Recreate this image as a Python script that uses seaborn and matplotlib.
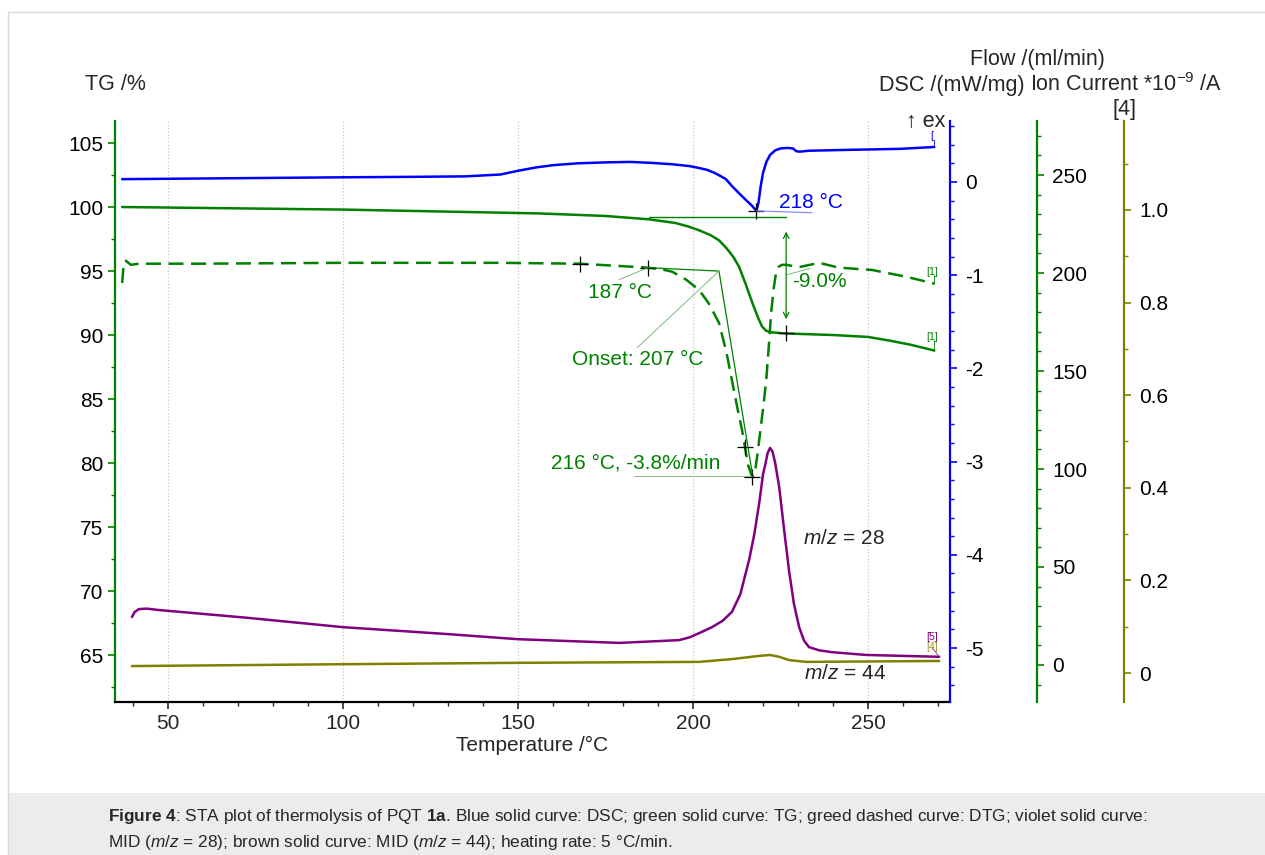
import numpy as np
import pandas as pd
import seaborn as sns
import matplotlib.pyplot as plt
from matplotlib.patches import Rectangle
from matplotlib.lines import Line2D
from matplotlib.ticker import MultipleLocator

sns.set_style("ticks")
plt.rcParams['font.family'] = ['Liberation Sans', 'DejaVu Sans']
plt.rcParams['mathtext.fontset'] = 'custom'
plt.rcParams['mathtext.rm'] = 'Liberation Sans'
plt.rcParams['mathtext.it'] = 'Liberation Sans:italic'
plt.rcParams['mathtext.bf'] = 'Liberation Sans:bold'
plt.rcParams['axes.unicode_minus'] = False

# --- data ---
# DSC /(mW/mg)
dsc_T = [36.9, 100, 120, 135, 145, 150, 155, 160, 167, 175, 182, 188, 194, 199, 201.7, 204,
         206, 208, 209.4, 211, 213.1, 215, 216.7, 218.1, 218.7, 219.3, 220, 221, 222, 223.5,
         225, 227, 228.5, 229.5, 230.5, 233, 245, 259, 268.9]
dsc_val = [0.03, 0.05, 0.055, 0.06, 0.08, 0.12, 0.155, 0.18, 0.20, 0.21, 0.215, 0.205, 0.19,
           0.17, 0.15, 0.13, 0.10, 0.06, 0.03, -0.04, -0.12, -0.19, -0.25, -0.31, -0.22, -0.05,
           0.10, 0.22, 0.29, 0.34, 0.36, 0.365, 0.36, 0.33, 0.325, 0.335, 0.345, 0.355, 0.375]

# TG /%
tg_T = [36.9, 100, 156, 175, 187.4, 195, 199, 202, 205, 207.4, 209.5, 211.5, 213.1, 215,
        216.9, 218.5, 219.7, 220.8, 222, 226.6, 240, 250, 256, 262, 268.9]
tg_val = [100.0, 99.8, 99.5, 99.3, 99.04, 98.75, 98.45, 98.15, 97.8, 97.4, 96.8, 96.1, 95.36,
          94.0, 92.54, 91.4, 90.67, 90.35, 90.22, 90.12, 90.0, 89.85, 89.57, 89.25, 88.79]

# DTG /(%/min)
dtg_T = [36.9, 37.4, 38.0, 39.4, 41.7, 58.9, 100, 144.6, 167.7, 187.1, 191, 194, 198, 201.7,
         204.5, 207.4, 209.5, 211.1, 212.7, 214, 215.7, 216.9, 217.6, 218.3, 218.9, 220, 220.9,
         221.7, 222.3, 223, 223.7, 224.5, 225.4, 226.6, 230.3, 236, 241.7, 251.1, 260.9, 268.9]
dtg_val = [-0.39, -0.02, 0.0, -0.07, -0.05, -0.05, -0.035, -0.035, -0.05, -0.12, -0.15, -0.19,
           -0.33, -0.51, -0.75, -1.09, -1.6, -2.10, -2.6, -2.98, -3.59, -3.80, -3.75, -3.45,
           -3.15, -2.6, -2.10, -1.45, -0.92, -0.5, -0.21, -0.10, -0.07, -0.07, -0.11, -0.035,
           -0.12, -0.16, -0.28, -0.40]

# Ion current *1e-9 A, m/z = 28
mz28_T = [39.7, 40.5, 41.7, 44, 47.4, 73, 100, 130, 150, 179, 196, 199, 201.7, 205.4, 208.5,
          211.1, 213.5, 216, 217.5, 218.9, 220, 220.6, 221.3, 222, 222.7, 223.4, 224.6, 226,
          227.4, 228.8, 230.3, 231.7, 233.1, 236, 239.7, 249.4, 270.3]
mz28_val = [0.121, 0.132, 0.138, 0.139, 0.136, 0.119, 0.099, 0.084, 0.073, 0.065, 0.071, 0.077,
            0.086, 0.099, 0.113, 0.132, 0.17, 0.244, 0.30, 0.367, 0.43, 0.449, 0.475, 0.486,
            0.478, 0.456, 0.402, 0.31, 0.222, 0.15, 0.099, 0.07, 0.056, 0.049, 0.045, 0.039,
            0.035]

# m/z = 44
mz44_T = [39.7, 100, 150, 201.7, 211, 219, 222, 224.6, 227.4, 232.3, 270.3]
mz44_val = [0.015, 0.019, 0.022, 0.024, 0.030, 0.037, 0.039, 0.035, 0.028, 0.024, 0.026]

# evaluated points
dsc_peak = (218.1, -0.31)
tg_step = (187.4, 226.6, 99.2, 90.12)   # T start, T end, TG before, TG after
dtg_base = [(167.7, -0.05), (187.1, -0.12)]
dtg_onset = (207.4, -0.18)
dtg_peak = (216.9, -3.80)
dtg_tangent_mark = (214.9, -3.27)

BLUE = '#0000ff'
GREEN = '#008000'
PURPLE = '#800080'
OLIVE = '#808000'

W, H = 1265, 855
fig = plt.figure(figsize=(W / 100, H / 100), dpi=100)

# page frame and caption box
fig.add_artist(Line2D([8 / W, 1], [1 - 12 / H, 1 - 12 / H], color='#d9d9d9', lw=1))
fig.add_artist(Line2D([8 / W, 8 / W], [0, 1 - 12 / H], color='#d9d9d9', lw=1))
fig.add_artist(Rectangle((8 / W, 0), 1, 62 / H, color='#ececec', lw=0))
cap_fs = 12.4
fig.text(108 / W, 1 - 816 / H,
         r'$\mathbf{Figure\ 4}$: STA plot of thermolysis of PQT $\mathbf{1a}$. Blue solid curve: DSC; '
         'green solid curve: TG; greed dashed curve: DTG; violet solid curve:',
         fontsize=cap_fs, va='center', ha='left')
fig.text(108 / W, 1 - 842 / H,
         r'MID ($m$/$z$ = 28); brown solid curve: MID ($m$/$z$ = 44); heating rate: 5 °C/min.',
         fontsize=cap_fs, va='center', ha='left')

ax = fig.add_axes([115 / W, 1 - 702 / H, 835 / W, 581 / H])
ax_dsc = ax.twinx()
ax_flow = ax.twinx()
ax_ion = ax.twinx()
ax_dtg = ax.twinx()

ax.set_xlim(34.86, 273.4)
ax.set_ylim(61.33, 106.72)
ax_dsc.set_ylim(-5.579, 0.654)
ax_flow.set_ylim(-18.9, 277.6)
ax_ion.set_ylim(-0.0626, 1.192)
ax_dtg.set_ylim(-7.76, 2.46)

# spines
for a in (ax, ax_dsc, ax_flow, ax_ion, ax_dtg):
    for s in a.spines.values():
        s.set_visible(False)
ax.spines['left'].set_visible(True)
ax.spines['left'].set_color(GREEN)
ax.spines['bottom'].set_visible(True)
ax.spines['bottom'].set_color('black')
for a, pos, col in ((ax_dsc, 1.0, BLUE), (ax_flow, 1.104, GREEN), (ax_ion, 1.2084, OLIVE)):
    a.spines['right'].set_visible(True)
    a.spines['right'].set_position(('axes', pos))
    a.spines['right'].set_color(col)
    a.spines['right'].set_linewidth(1.6)
ax.spines['left'].set_linewidth(1.6)
ax.spines['bottom'].set_linewidth(1.6)
ax_dtg.set_yticks([])

# ticks
tick_font = 15
ax.xaxis.set_major_locator(MultipleLocator(50))
ax.xaxis.set_minor_locator(MultipleLocator(10))
ax.yaxis.set_major_locator(MultipleLocator(5))
ax.yaxis.set_minor_locator(MultipleLocator(2.5))
ax_dsc.yaxis.set_major_locator(MultipleLocator(1))
ax_dsc.yaxis.set_minor_locator(MultipleLocator(0.2))
ax_flow.yaxis.set_major_locator(MultipleLocator(50))
ax_flow.yaxis.set_minor_locator(MultipleLocator(10))
ax_ion.yaxis.set_major_locator(MultipleLocator(0.2))
ax_ion.yaxis.set_minor_locator(MultipleLocator(0.1))
ax_ion.yaxis.set_major_formatter(lambda v, p: '0' if abs(v) < 1e-9 else f'{v:.1f}')
ax.tick_params(axis='both', which='major', labelsize=tick_font, length=5, width=1.2, direction='out')
ax.tick_params(axis='both', which='minor', length=3, width=1.0, direction='out')
ax.tick_params(axis='y', which='both', colors=GREEN, labelcolor='black')
for a, col in ((ax_dsc, BLUE), (ax_flow, GREEN), (ax_ion, OLIVE)):
    a.tick_params(axis='y', which='major', labelsize=tick_font, length=5, width=1.2,
                  colors=col, labelcolor='black', pad=6)
    a.tick_params(axis='y', which='minor', length=3, width=1.0, colors=col)

# vertical dotted grid
for t in ax.get_xticks():
    ax.axvline(t, color='#c8c8c8', ls=':', lw=0.9, zorder=0)

# curves
sns.lineplot(x=dsc_T, y=dsc_val, ax=ax_dsc, color=BLUE, lw=1.8)
sns.lineplot(x=tg_T, y=tg_val, ax=ax, color=GREEN, lw=1.8)
sns.lineplot(x=dtg_T, y=dtg_val, ax=ax_dtg, color=GREEN, lw=1.8, linestyle=(0, (6, 3)))
sns.lineplot(x=mz28_T, y=mz28_val, ax=ax_ion, color=PURPLE, lw=1.8)
sns.lineplot(x=mz44_T, y=mz44_val, ax=ax_ion, color=OLIVE, lw=1.8)
for a in (ax_dsc, ax, ax_flow, ax_dtg, ax_ion):
    a.set_ylabel('')
ax.set_xlabel('Temperature /°C', fontsize=tick_font, labelpad=2)

# DSC peak annotation
ax_dsc.plot(*dsc_peak, marker='+', ms=12, mew=0.9, color='black')
ax_dsc.plot([dsc_peak[0], 234.0], [dsc_peak[1], -0.33], color='#8080ff', lw=0.8)
ax_dsc.text(224.6, -0.215, '218 °C', color=BLUE, fontsize=tick_font, va='center', ha='left')

# TG step annotation
t0, t1, tgb, tga = tg_step
ax.plot([t0, t1], [tgb, tgb], color=GREEN, lw=1.0)
ax.plot(t1, tga, marker='+', ms=12, mew=0.9, color='black')
ax.annotate('', xy=(t1, tgb - 0.9), xytext=(t1, tga + 0.9),
            arrowprops=dict(arrowstyle='<->', color=GREEN, lw=0.9))
ax.plot([t1, 233.5], [94.7, 95.2], color='#66b366', lw=0.6)
ax.text(228.3, 94.2, '-9.0%', color=GREEN, fontsize=tick_font, va='center', ha='left')

# DTG annotations
for p in dtg_base:
    ax_dtg.plot(*p, marker='+', ms=12, mew=0.9, color='black')
ax_dtg.plot(*dtg_peak, marker='+', ms=12, mew=0.9, color='black')
ax_dtg.plot(*dtg_tangent_mark, marker='+', ms=12, mew=0.9, color='black')
ax_dtg.plot([dtg_base[1][0], dtg_onset[0], dtg_peak[0]],
            [dtg_base[1][1], dtg_onset[1], -3.73], color=GREEN, lw=0.9)
ax_dtg.plot([178.9, dtg_base[1][0]], [-0.33, dtg_base[1][1]], color='#66b366', lw=0.6)
ax_dtg.plot([184.0, dtg_onset[0]], [-1.53, dtg_onset[1]], color='#66b366', lw=0.6)
ax_dtg.plot([183.1, dtg_peak[0]], [-3.79, -3.79], color='#66b366', lw=0.6)
ax_dtg.text(179.1, -0.55, '187 °C', color=GREEN, fontsize=tick_font, va='center', ha='center')
ax_dtg.text(184.3, -1.74, 'Onset: 207 °C', color=GREEN, fontsize=tick_font, va='center', ha='center')
ax_dtg.text(183.7, -3.56, '216 °C, -3.8%/min', color=GREEN, fontsize=tick_font, va='center', ha='center')

# m/z labels
ax_ion.text(243.1, 0.29, '$m$/$z$ = 28', fontsize=tick_font, va='center', ha='center')
ax_ion.text(243.4, -0.002, '$m$/$z$ = 44', fontsize=tick_font, va='center', ha='center')

# curve end tags
ax_dtg.plot([268.9, 268.9], [dtg_val[-1], dtg_val[-1] + 0.15], color=GREEN, lw=0.6)
ax_dtg.text(268.3, dtg_val[-1] + 0.12, '[1]', color=GREEN, fontsize=7.5, ha='center', va='bottom')
ax.plot([268.9, 268.9], [tg_val[-1], tg_val[-1] + 0.8], color=GREEN, lw=0.6)
ax.text(268.3, tg_val[-1] + 0.7, '[1]', color=GREEN, fontsize=7.5, ha='center', va='bottom')
ax_dsc.plot([268.9, 268.9], [dsc_val[-1], dsc_val[-1] + 0.08], color=BLUE, lw=0.6)
ax_dsc.text(268.3, dsc_val[-1] + 0.06, '[', color=BLUE, fontsize=7.5, ha='center', va='bottom')
ax_ion.plot([270.3, 268.3], [mz28_val[-1], 0.055], color=PURPLE, lw=0.5)
ax_ion.text(268.3, 0.066, '[5]', color=PURPLE, fontsize=7.5, ha='center', va='bottom')
ax_ion.text(268.3, 0.046, '[4]', color=OLIVE, fontsize=7.5, ha='center', va='bottom', alpha=0.8)

# axis headers
fs = 15.5
fig.text(85 / W, 1 - 85 / H, 'TG /%', fontsize=fs, ha='left', va='center')
fig.text(1037 / W, 1 - 60 / H, 'Flow /(ml/min)', fontsize=fs, ha='center', va='center')
fig.text(1025 / W, 1 - 85 / H, 'DSC /(mW/mg)', fontsize=fs, ha='right', va='center')
fig.text(1030 / W, 1 - 85 / H, 'Ion Current *10$^{-9}$ /A', fontsize=fs, ha='left', va='center')
fig.text(1124 / W, 1 - 110 / H, '[4]', fontsize=fs, ha='center', va='center')
fig.text(906 / W, 1 - 122 / H, '↑ ex', fontsize=fs, ha='left', va='center')

fig.savefig('out.png', dpi=100)
